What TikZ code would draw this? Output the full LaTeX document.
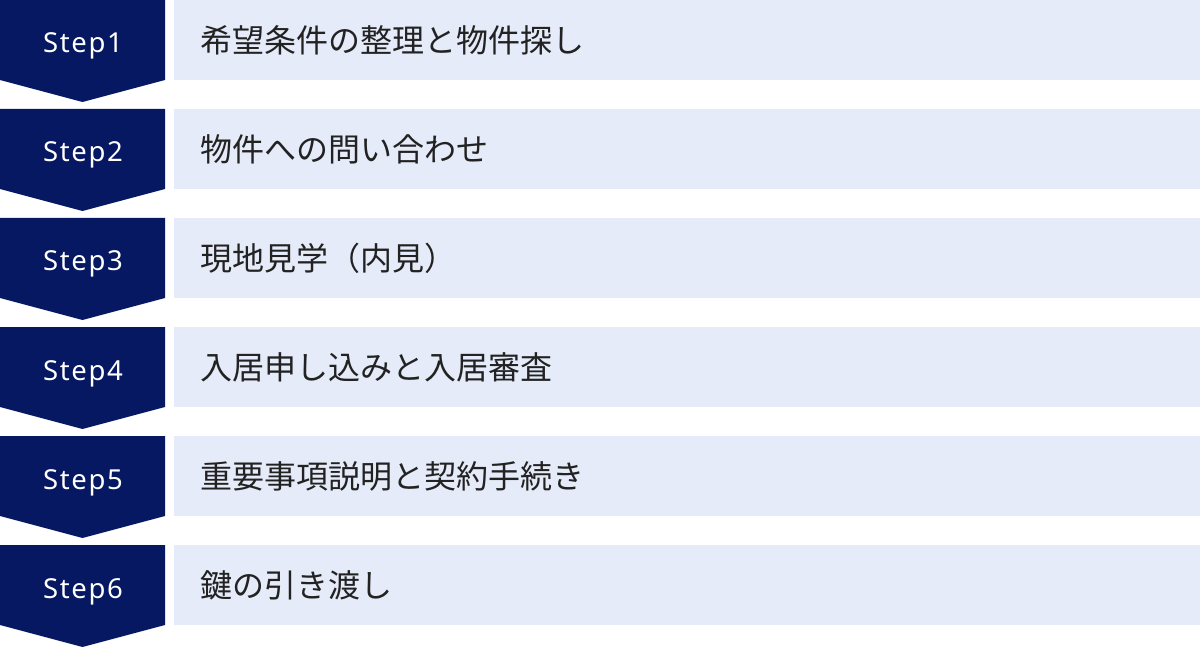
\documentclass[tikz,border=0pt]{standalone}
\usepackage{fontspec}
\setmainfont{Noto Sans}
\newfontfamily\stepfont[LetterSpace=6]{Noto Sans}
\newfontfamily\jpfont{Noto Sans CJK JP}
\usetikzlibrary{positioning}

\definecolor{navy}{HTML}{051861}
\definecolor{pale}{HTML}{E5EBF8}
\definecolor{ink}{HTML}{222222}

\begin{document}
\begin{tikzpicture}[x=1pt,y=-1pt,
    steplabel/.style={text=white,font=\stepfont\fontsize{27.5}{34}\selectfont,inner sep=0pt,anchor=base},
    taskbox/.style={fill=pale,minimum width=1026pt,minimum height=80pt,inner sep=0pt,anchor=north west},
    tasklabel/.style={text=ink,font=\jpfont\fontsize{32}{38}\selectfont,inner sep=0pt,anchor=west}]
  \useasboundingbox (0,0) rectangle (1200,647);
  % 各ステップの行
  \foreach \i/\txt in {1/希望条件の整理と物件探し,2/物件への問い合わせ,3/現地見学（内見）,
      4/入居申し込みと入居審査,5/重要事項説明と契約手続き,6/鍵の引き渡し}{
      \pgfmathsetmacro\rowy{(\i-1)*109}
      \fill[navy] (0,\rowy) -- (165,\rowy) -- (165,\rowy+80) -- (82.5,\rowy+102)
        -- (0,\rowy+80) -- cycle;
      \node[steplabel] (s\i) at (83,\rowy+53) {Step\i};
      \node[taskbox] (t\i) at (174,\rowy) {};
      \node[tasklabel,right=26pt of t\i.west] (l\i) {\txt};
    }
\end{tikzpicture}
\end{document}
